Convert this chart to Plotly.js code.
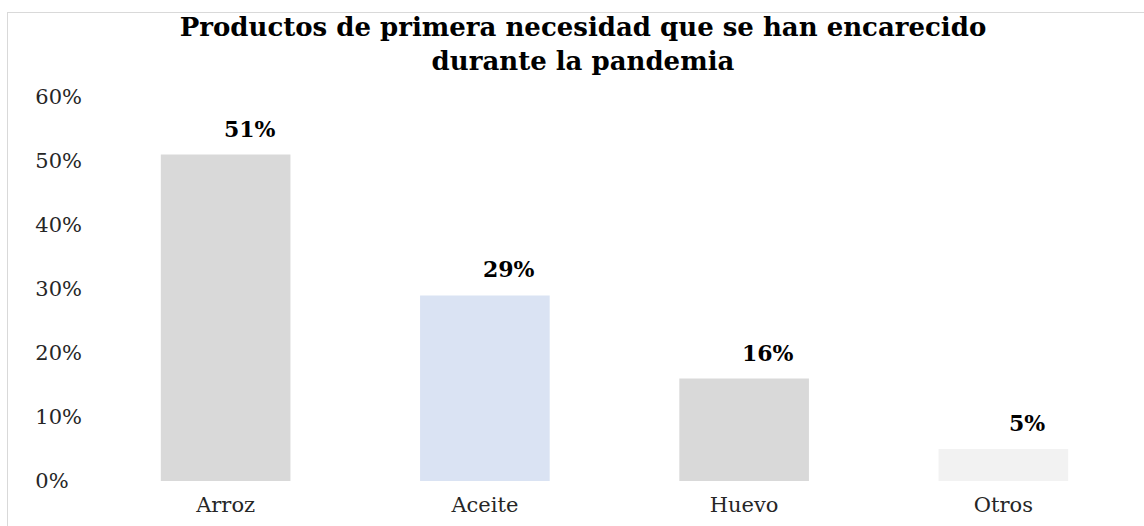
<!DOCTYPE html>
<html>
<head>
<meta charset="utf-8">
<script src="https://cdn.plot.ly/plotly-3.0.1.min.js"></script>
<style>
  html, body { margin: 0; padding: 0; background: #ffffff; overflow: hidden; }
  #wrap { position: relative; width: 1144px; height: 526px; }
  #frame { position: absolute; left: 7px; top: 12px; width: 1300px; height: 700px;
           border: 1px solid #d9d9d9; box-sizing: border-box; }
  #chart { position: absolute; left: 0; top: 0; width: 1144px; height: 526px; }
</style>
</head>
<body>
<div id="wrap">
  <div id="frame"></div>
  <div id="chart"></div>
</div>
<script>
// Data
const categories = ["Arroz", "Aceite", "Huevo", "Otros"];
const values = [51, 29, 16, 5];
const valueLabels = ["51%", "29%", "16%", "5%"];
const barColors = ["#d9d9d9", "#dae3f3", "#d9d9d9", "#f2f2f2"];
const tickValues = [0, 10, 20, 30, 40, 50, 60];
const tickLabels = ["0%\u2007", "10%", "20%", "30%", "40%", "50%", "60%"];
const chartTitle = "Productos de primera necesidad que se han encarecido<br>durante la pandemia";

const fontFamily = "DejaVu Serif, Liberation Serif, serif";

const trace = {
  type: "bar",
  x: categories,
  y: values,
  marker: { color: barColors, line: { width: 0 } },
  width: 0.5,
  hoverinfo: "skip"
};

const annotations = categories.map((c, i) => ({
  x: c,
  y: values[i],
  xref: "x",
  yref: "y",
  text: valueLabels[i],
  showarrow: false,
  xanchor: "center",
  yanchor: "middle",
  xshift: 24,
  yshift: 26,
  font: { family: fontFamily, size: 22, color: "#000000", weight: "bold" }
}));

const layout = {
  width: 1144,
  height: 526,
  margin: { l: 96, r: 11, t: 97, b: 45 },
  paper_bgcolor: "rgba(0,0,0,0)",
  plot_bgcolor: "rgba(0,0,0,0)",
  showlegend: false,
  title: {
    text: chartTitle,
    x: 583 / 1144,
    xanchor: "center",
    xref: "container",
    y: 0.932,
    yanchor: "top",
    yref: "container",
    font: { family: fontFamily, size: 26, color: "#000000", weight: "bold" }
  },
  xaxis: {
    type: "category",
    showgrid: false,
    zeroline: false,
    showline: false,
    ticks: "",
    tickfont: { family: fontFamily, size: 21, color: "#262626" },
    ticklabelstandoff: 9,
    fixedrange: true
  },
  yaxis: {
    range: [0, 60],
    showgrid: false,
    zeroline: false,
    showline: false,
    ticks: "",
    tickmode: "array",
    tickvals: tickValues,
    ticktext: tickLabels,
    tickfont: { family: fontFamily, size: 21, color: "#262626" },
    ticklabelstandoff: 13,
    fixedrange: true
  },
  annotations: annotations
};

Plotly.newPlot("chart", [trace], layout, { displayModeBar: false, staticPlot: true });
</script>
</body>
</html>
